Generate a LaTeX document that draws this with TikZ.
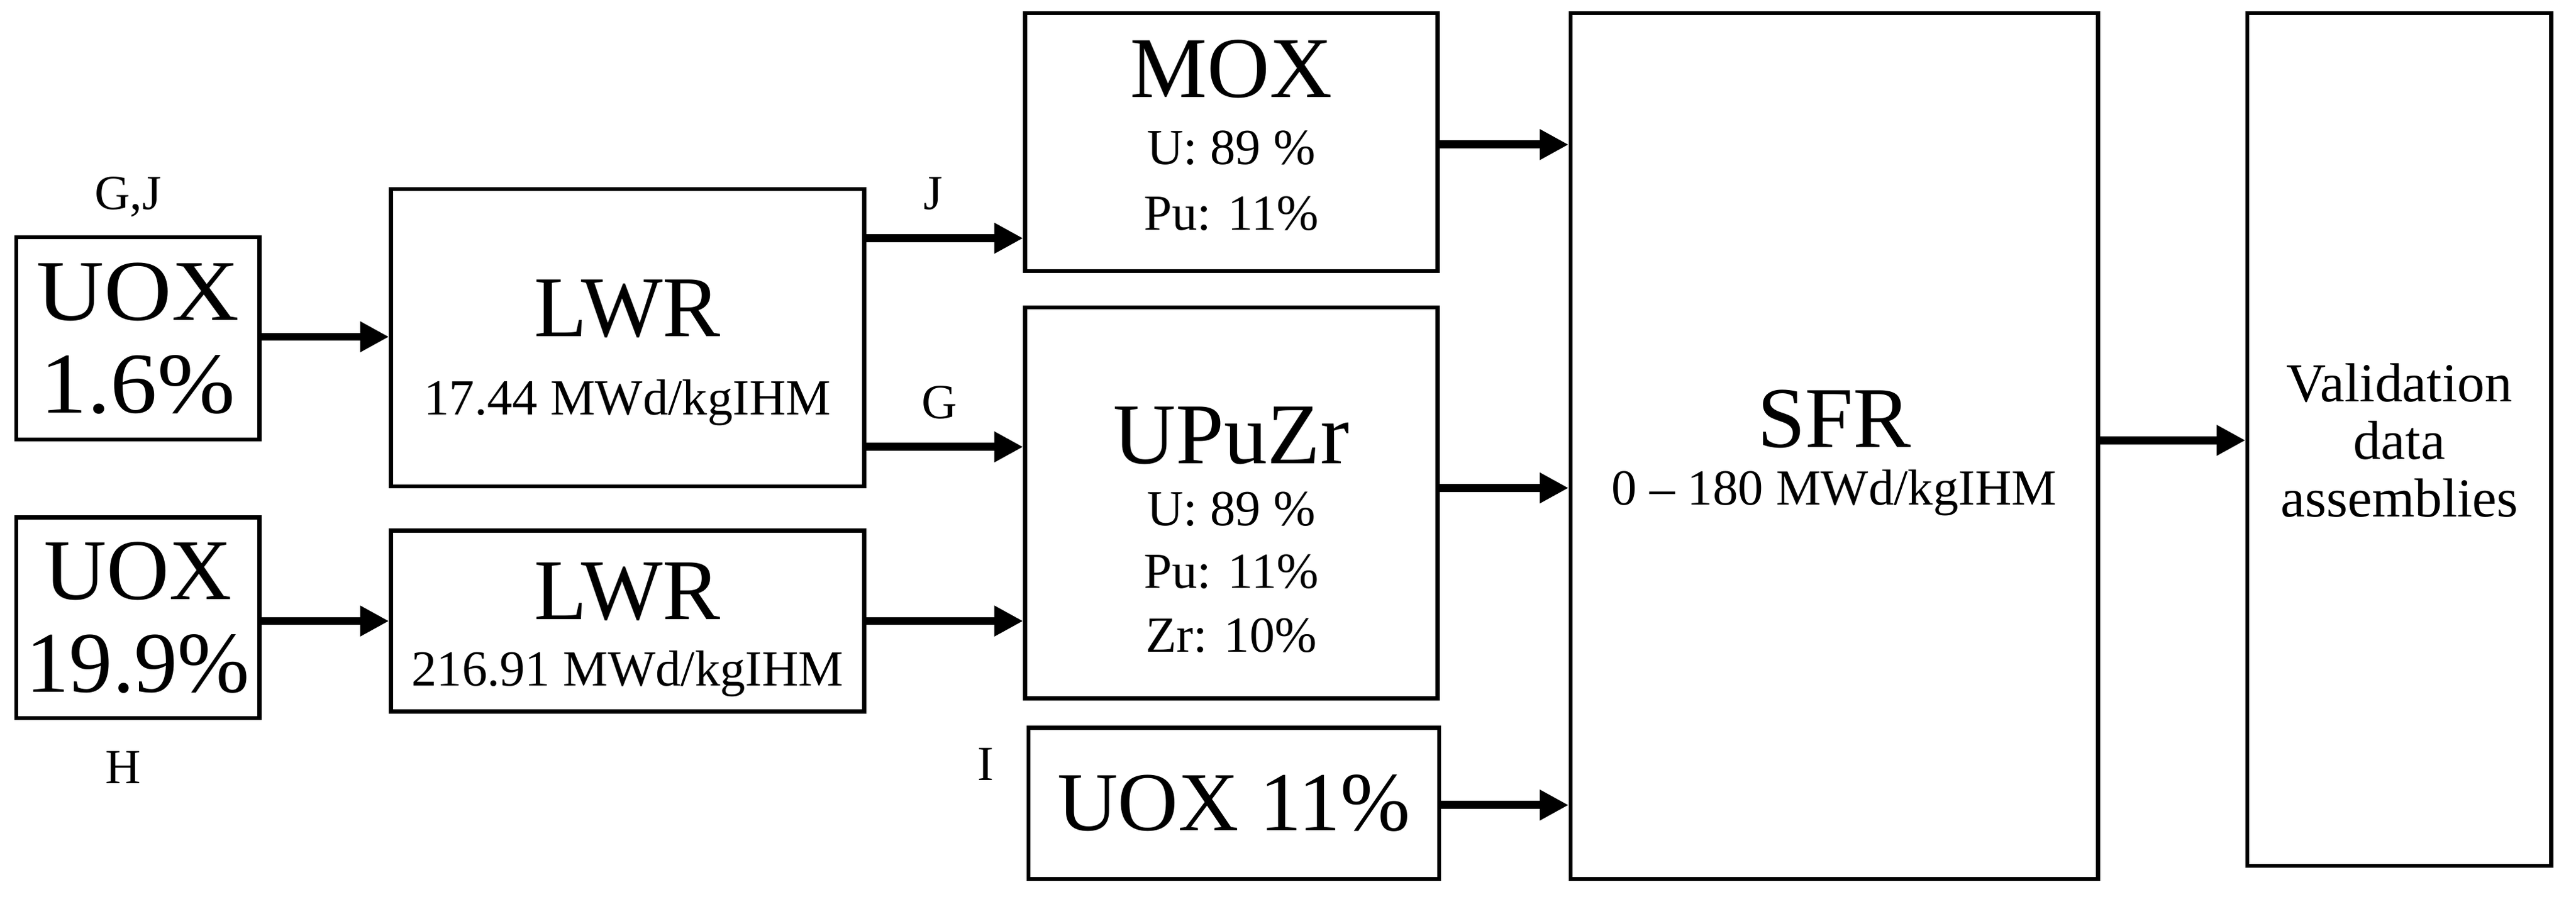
\documentclass[tikz,border=0pt]{standalone}
\usepackage{fontspec}
\setmainfont{Liberation Serif}
\usetikzlibrary{arrows.meta}
\begin{document}
\begin{tikzpicture}[x=0.02cm,y=-0.02cm,
 box/.style={draw,line width=1.4pt,inner sep=0pt},
 arr/.style={line width=2.8pt,-{Triangle[length=10pt,width=10pt]}},
 big/.style={font=\fontsize{30}{34}\selectfont},
 mid/.style={font=\fontsize{17.5}{20}\selectfont},
 lab/.style={font=\fontsize{17}{20}\selectfont}]
\useasboundingbox (0,0) rectangle (1568,547);
\node[box,minimum width=148*0.02cm,minimum height=123*0.02cm] (u1) at (84,206) {};
\node[big,align=center,xscale=1.08] at (84,206) {UOX\\[-2pt]1.6\%};
\node[box,minimum width=148*0.02cm,minimum height=122*0.02cm] (u2) at (84,376) {};
\node[big,align=center,xscale=1.0] at (84,376) {UOX\\[-2pt]19.9\%};
\node[lab] (gj) at (78,120) {G,J};
\node[lab] (h) at (75,467) {H};
\node[box,minimum width=288*0.02cm,minimum height=181*0.02cm] (l1) at (382,205.5) {};
\node[big] at (382,188) {LWR};
\node[mid] at (382,245) {17.44 MWd/kgIHM};
\node[box,minimum width=288*0.02cm,minimum height=110*0.02cm] (l2) at (382,378) {};
\node[big] at (382,360) {LWR};
\node[mid] at (382,410) {216.91 MWd/kgIHM};
\node[box,minimum width=251*0.02cm,minimum height=157*0.02cm] (mox) at (749.5,86.5) {};
\node[big] at (749.5,42) {MOX};
\node[mid] at (749.5,90) {U: 89 \%};
\node[mid] at (749.5,130) {Pu: 11\%};
\node[box,minimum width=251*0.02cm,minimum height=238*0.02cm] (up) at (749.5,306) {};
\node[big] at (749.5,265) {UPuZr};
\node[mid] at (749.5,310) {U: 89 \%};
\node[mid] at (749.5,348) {Pu: 11\%};
\node[mid] at (749.5,387) {Zr: 10\%};
\node[box,minimum width=250*0.02cm,minimum height=92*0.02cm] (u3) at (751,489) {};
\node[big,font=\fontsize{29}{34}\selectfont] at (751,489) {UOX 11\%};
\node[lab] (i) at (600,465) {I};
\node[box,minimum width=321*0.02cm,minimum height=527*0.02cm] (sfr) at (1116.5,271.5) {};
\node[big] at (1116.5,255) {SFR};
\node[mid] at (1116.5,300) {0 -- 180 MWd/kgIHM};
\node[box,minimum width=185*0.02cm,minimum height=519*0.02cm] (val) at (1460.5,267.5) {};
\node[mid,align=center,font=\fontsize{19}{20}\selectfont] at (1460.5,268) {Validation\\data\\assemblies};
\node[lab] (j) at (568,118) {J};
\node[lab] (g) at (572,245) {G};
\draw[arr] (u1.east|-0,205) -- (l1.west|-0,205);
\draw[arr] (u2.east|-0,378) -- (l2.west|-0,378);
\draw[arr] (l1.east|-0,145) -- (mox.west|-0,145);
\draw[arr] (l1.east|-0,272) -- (up.west|-0,272);
\draw[arr] (l2.east|-0,378) -- (up.west|-0,378);
\draw[arr] (mox.east|-0,88) -- (sfr.west|-0,88);
\draw[arr] (up.east|-0,297) -- (sfr.west|-0,297);
\draw[arr] (u3.east|-0,490) -- (sfr.west|-0,490);
\draw[arr] (sfr.east|-0,268) -- (val.west|-0,268);
\end{tikzpicture}
\end{document}
